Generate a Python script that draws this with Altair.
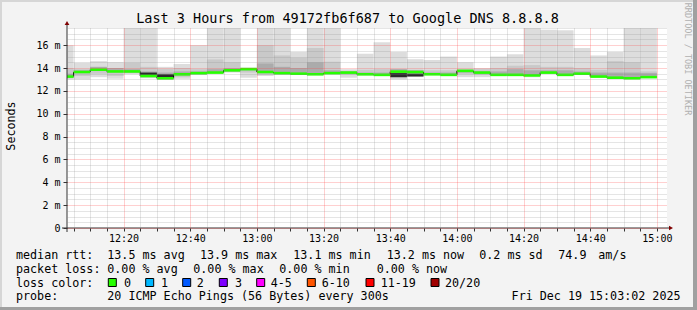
import altair as alt
import pandas as pd
import numpy as np

DAY = "2025-12-19"

# ---- data (ms) ----
t_end = ["12:05", "12:10", "12:15", "12:20", "12:25", "12:30", "12:35", "12:40", "12:45",
         "12:50", "12:55", "13:00", "13:05", "13:10", "13:15", "13:20", "13:25", "13:30",
         "13:35", "13:40", "13:45", "13:50", "13:55", "14:00", "14:05", "14:10", "14:15",
         "14:20", "14:25", "14:30", "14:35", "14:40", "14:45", "14:50", "14:55", "15:00"]
median = [13.25, 13.65, 13.85, 13.7, 13.7, 13.3, 13.1, 13.45, 13.55, 13.6, 13.8, 13.9,
          13.65, 13.55, 13.5, 13.45, 13.55, 13.6, 13.45, 13.4, 13.68, 13.65, 13.45, 13.4,
          13.75, 13.6, 13.4, 13.4, 13.35, 13.6, 13.4, 13.5, 13.25, 13.15, 13.1, 13.2]
ping_min = [13.0, 13.0, 13.2, 13.05, 13.45, 13.1, 12.95, 13.05, 13.4, 13.55, 13.6, 13.15,
            13.3, 13.4, 13.45, 13.4, 13.5, 13.15, 13.35, 13.3, 13.0, 13.3, 13.4, 13.35,
            13.2, 13.2, 13.35, 13.35, 13.2, 13.55, 13.35, 13.45, 13.2, 13.1, 13.05, 13.15]
ping_max = [16.0, 14.45, 14.6, 14.5, 17.6, 17.6, 14.1, 14.35, 16.0, 17.6, 17.6, 14.05,
            17.6, 17.6, 15.4, 17.6, 17.6, 13.9, 15.25, 16.25, 15.4, 14.77, 14.7, 15.0,
            14.5, 14.0, 15.0, 15.2, 17.6, 17.35, 17.3, 15.75, 15.1, 15.4, 17.6, 17.6]
band_lo = [13.1, 13.3, 13.5, 13.3, 13.55, 13.2, 13.0, 13.2, 13.45, 13.55, 13.65, 13.6,
           13.4, 13.45, 13.45, 13.4, 13.5, 13.4, 13.4, 13.35, 13.1, 13.35, 13.4, 13.35,
           13.45, 13.4, 13.35, 13.35, 13.3, 13.55, 13.35, 13.45, 13.2, 13.1, 13.05, 13.15]
band_hi = [14.0, 13.9, 14.1, 14.0, 14.45, 14.1, 13.9, 14.0, 13.9, 14.75, 14.5, 14.0,
           16.0, 15.1, 14.9, 15.75, 14.55, 13.75, 13.85, 13.9, 13.9, 13.85, 13.8, 13.8,
           13.9, 13.9, 14.0, 14.2, 14.25, 14.1, 14.1, 14.0, 13.85, 14.6, 14.5, 13.7]
core_lo = [13.15, 13.55, 13.75, 13.6, 13.6, 13.2, 13.05, 13.35, 13.45, 13.55, 13.7, 13.8,
           13.55, 13.45, 13.4, 13.4, 13.45, 13.5, 13.4, 13.35, 13.2, 13.3, 13.4, 13.35,
           13.6, 13.5, 13.35, 13.35, 13.3, 13.5, 13.35, 13.45, 13.2, 13.1, 13.05, 13.15]
core_hi = [13.5, 13.8, 14.1, 14.0, 13.9, 13.7, 13.6, 13.7, 13.7, 13.9, 14.0, 13.95,
           14.4, 14.1, 14.0, 14.5, 13.8, 13.7, 13.6, 13.6, 13.9, 13.8, 13.6, 13.6,
           13.8, 13.7, 13.7, 13.9, 13.8, 13.8, 13.8, 13.7, 13.6, 13.6, 13.6, 13.55]
dense_t = ["12:30", "12:35", "13:45", "13:50"]
dense_lo = [13.35, 13.15, 13.2, 13.25]
dense_hi = [13.6, 13.45, 13.55, 13.5]

loss_labels = ["0", "1", "2", "3", "4-5", "6-10", "11-19", "20/20"]
loss_colors = ["#26ff00", "#00b8ff", "#0059ff", "#7e00ff", "#ff00ff", "#ff5500", "#ff0000", "#a00000"]

# ---- tables ----
df = pd.DataFrame({
    "t_end": [f"{DAY}T{t}:00" for t in t_end],
    "median": median, "pmin": ping_min, "pmax": ping_max,
    "blo": band_lo, "bhi": band_hi, "clo": core_lo, "chi": core_hi,
})
df["t_start"] = (pd.to_datetime(df["t_end"]) - pd.Timedelta(minutes=5)).dt.strftime("%Y-%m-%dT%H:%M:%S")
df["next_med"] = df["median"].shift(-1)
conn = df.dropna(subset=["next_med"])

dd = pd.DataFrame({"t_end": [f"{DAY}T{t}:00" for t in dense_t], "lo": dense_lo, "hi": dense_hi})
dd["t_start"] = (pd.to_datetime(dd["t_end"]) - pd.Timedelta(minutes=5)).dt.strftime("%Y-%m-%dT%H:%M:%S")

one = pd.DataFrame({"k": [0]})

# ---- layout ----
L, T, W, H = 67, 28, 600, 200
MONO = "DejaVu Sans Mono"
RED = "rgba(255,70,70,0.5)"
GRAY = "rgba(140,140,140,0.45)"


def dt(h, m, s=0):
    return alt.DateTime(year=2025, month=12, date=19, hours=h, minutes=m, seconds=s)


x_ticks = [dt(ts.hour, ts.minute) for ts in pd.date_range(f"{DAY} 12:05", f"{DAY} 15:00", freq="5min")]
y_ticks = [float(v) for v in np.arange(0, 17.51, 0.5)]

xscale = alt.Scale(domain=[dt(12, 3, 2), dt(15, 3, 2)])
yscale = alt.Scale(domain=[0, 17.5], nice=False, zero=True)

MAJ_X = "minutes(datum.value) % 20 === 0"
MAJ_Y = "datum.value % 2 === 0"

xaxis = alt.Axis(
    values=x_ticks, title=None, domain=False, zindex=1,
    grid=True, gridDash=[1, 1], gridWidth=1,
    gridColor={"condition": {"test": MAJ_X, "value": RED}, "value": GRAY},
    ticks=True, tickSize=3, tickColor="#333333",
    labelExpr=MAJ_X.replace("datum.value", "datum.value") + " ? timeFormat(datum.value, '%H:%M') : ''",
    labelFont=MONO, labelFontSize=10, labelColor="black", labelPadding=2,
    labelOverlap=False, labelFlush=False,
)
yaxis = alt.Axis(
    values=y_ticks, title=None, domain=False, zindex=1,
    grid=True, gridDash=[1, 1], gridWidth=1,
    gridColor={"condition": {"test": MAJ_Y, "value": RED}, "value": GRAY},
    ticks=True, tickSize=4, tickColor="#333333",
    tickOpacity={"condition": {"test": MAJ_Y, "value": 1}, "value": 0},
    labelExpr="datum.value % 2 === 0 ? (datum.value === 0 ? '0\u00a0\u00a0' : datum.value + ' m') : ''",
    labelFont=MONO, labelFontSize=10, labelColor="black", labelPadding=3,
    labelOverlap=False, labelFlush=False,
)


def band(data, lo, hi, color):
    return alt.Chart(data).mark_rect(color=color, clip=True).encode(
        x=alt.X("t_start:T", scale=xscale, axis=xaxis),
        x2="t_end:T",
        y=alt.Y(f"{lo}:Q", scale=yscale, axis=yaxis),
        y2=f"{hi}:Q",
    )


layers = [
    band(df, "pmin", "pmax", "#dddddd"),
    band(df, "blo", "bhi", "#c9c9c9"),
    band(df, "clo", "chi", "#ababab"),
    band(dd, "lo", "hi", "#2a2a2a"),
    alt.Chart(conn).mark_rule(color="black", strokeWidth=1, clip=True).encode(
        x=alt.X("t_end:T", scale=xscale, axis=xaxis),
        y=alt.Y("median:Q", scale=yscale, axis=yaxis),
        y2="next_med:Q",
    ),
    alt.Chart(df).mark_rule(color="#26ff00", strokeWidth=2.6, clip=True).encode(
        x=alt.X("t_start:T", scale=xscale, axis=xaxis),
        x2="t_end:T",
        y=alt.Y("median:Q", scale=yscale, axis=yaxis),
    ),
]


def absrect(x0, y0, x1, y1, fill, stroke=None):
    kw = dict(fill=fill)
    if stroke:
        kw.update(stroke=stroke, strokeWidth=1)
    else:
        kw.update(strokeWidth=0)
    return alt.Chart(one).mark_rect(**kw).encode(
        x=alt.value(x0 - L), x2=alt.value(x1 - L), y=alt.value(y0 - T), y2=alt.value(y1 - T))


def txt(s, x, y, size=11.7, align="left", color="black", angle=0):
    return alt.Chart(one).mark_text(
        text=s, align=align, baseline="middle", font=MONO, fontSize=size,
        color=color, angle=angle).encode(x=alt.value(x - L), y=alt.value(y - T))


# axis lines and arrows
layers += [
    alt.Chart(one).mark_rule(color="#333333", strokeWidth=1).encode(
        x=alt.value(0), y=alt.value(232 - T), y2=alt.value(24 - T)),
    alt.Chart(one).mark_rule(color="#333333", strokeWidth=1).encode(
        x=alt.value(62 - L), x2=alt.value(670 - L), y=alt.value(H)),
    alt.Chart(one).mark_point(shape="triangle-up", filled=True, size=22, color="#7f0000", opacity=1).encode(
        x=alt.value(0), y=alt.value(23 - T)),
    alt.Chart(one).mark_point(shape="triangle-right", filled=True, size=22, color="#7f0000", opacity=1).encode(
        x=alt.value(671 - L), y=alt.value(H)),
]

# frame
layers += [
    absrect(0, 0, 697, 2, "#d6d6d6"),
    absrect(0, 0, 2, 310, "#d6d6d6"),
    absrect(693, 0, 697, 310, "#a0a0a0"),
    absrect(0, 307, 697, 310, "#a0a0a0"),
]

# titles
layers += [
    txt("Last 3 Hours from 49172fb6f687 to Google DNS 8.8.8.8", 347.5, 19, size=13.5, align="center"),
    txt("Seconds", 11, 126, size=11.7, align="center", angle=270),
    txt("RRDTOOL / TOBI OETIKER", 687.5, 59, size=8.5, align="center", color="#b0b0b0", angle=90),
]

# legend lines
Y1, Y2, Y3, Y4 = 255, 268.5, 282.5, 296
line1 = [(16, "median rtt:"), (107.3, "13.5 ms avg"), (200, "13.9 ms max"), (293.3, "13.1 ms min"),
         (386.7, "13.2 ms now"), (479.3, "0.2 ms sd"), (558.3, "74.9"), (598.3, "am/s")]
line2 = [(16, "packet loss:"), (107.3, "0.00 % avg"), (193.3, "0.00 % max"), (279.3, "0.00 % min"),
         (376.7, "0.00 % now")]
for x, s in line1:
    layers.append(txt(s, x, Y1))
for x, s in line2:
    layers.append(txt(s, x, Y2))
layers.append(txt("loss color:", 16, Y3))
box_x = [108.3, 145.7, 182.7, 219.3, 256.7, 307.3, 366, 431]
lab_x = [124, 161, 196.7, 235, 270.7, 321.7, 380.7, 445]
for bx, lx, lab, col in zip(box_x, lab_x, loss_labels, loss_colors):
    layers.append(absrect(bx, 278.5, bx + 8, 286.5, col, stroke="black"))
    layers.append(txt(lab, lx, Y3))
layers += [
    txt("probe:", 16, Y4),
    txt("20 ICMP Echo Pings (56 Bytes) every 300s", 107.3, Y4),
    txt("Fri Dec 19 15:03:02 2025", 680.5, Y4, align="right"),
]

chart = alt.layer(*layers).properties(
    width=W, height=H,
    autosize=alt.AutoSizeParams(type="none"),
    padding={"left": L, "top": T, "right": 697 - L - W, "bottom": 310 - T - H},
    background="#f3f3f3",
).configure_view(fill="white", stroke=None)

chart.save("out.html", embed_options={"renderer": "svg", "actions": False})
